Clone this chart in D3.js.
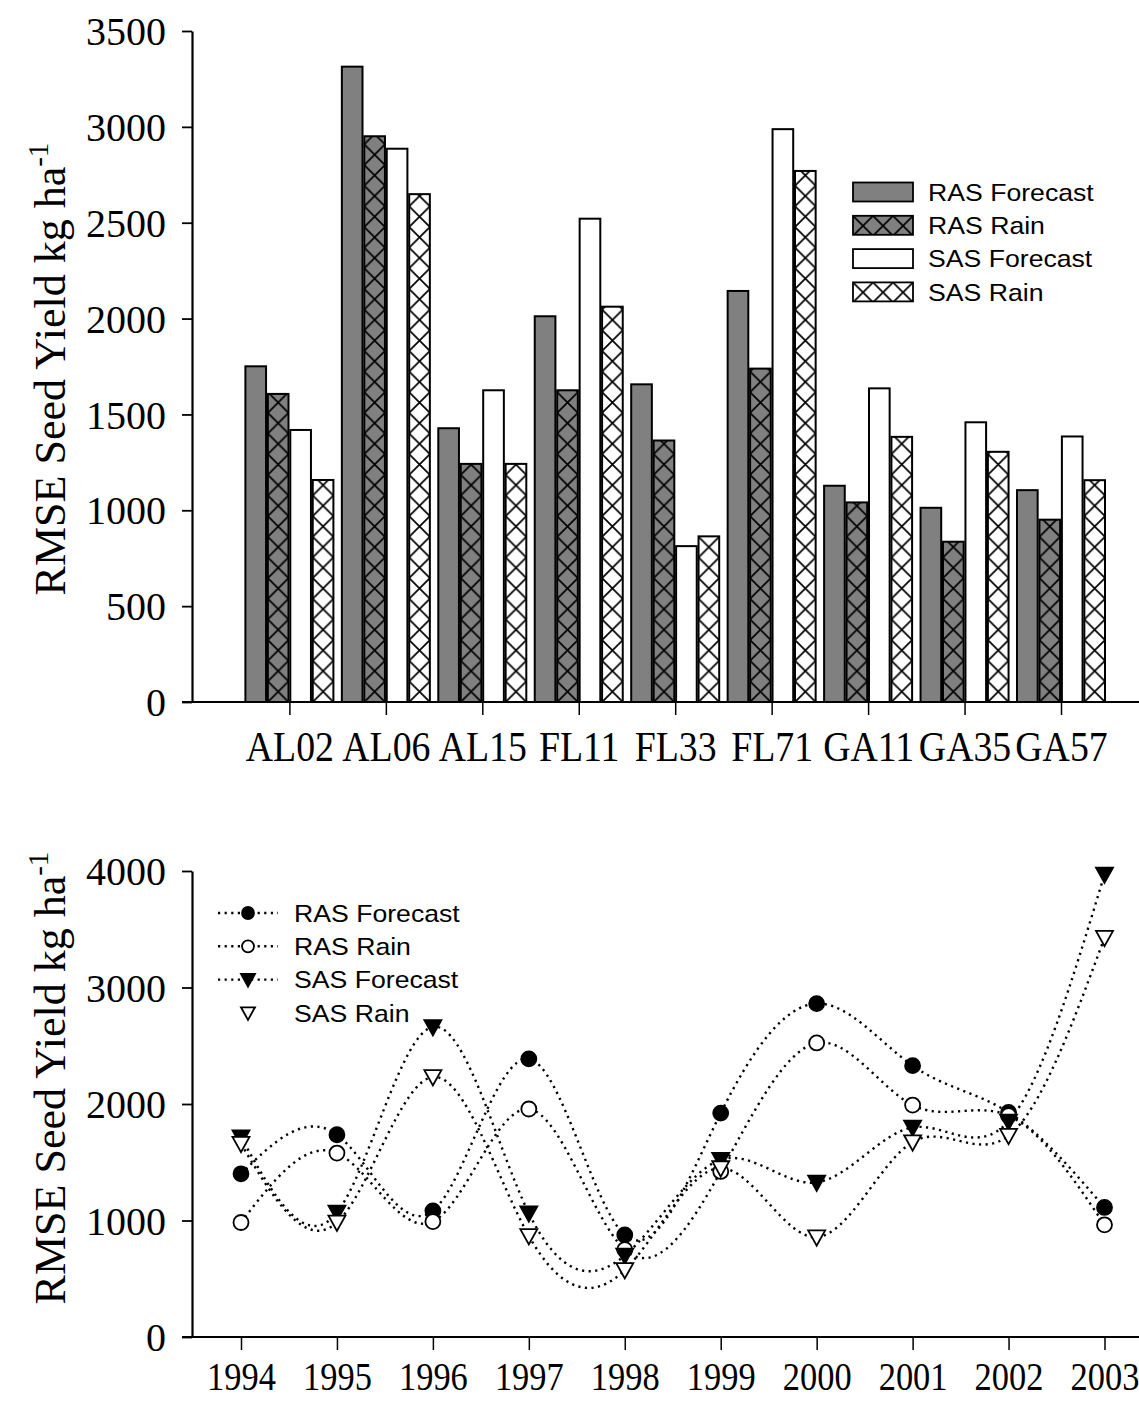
<!DOCTYPE html>
<html>
<head>
<meta charset="utf-8">
<script src="https://cdn.jsdelivr.net/npm/d3@7"></script>
<style>
  html, body { margin: 0; padding: 0; background: #fff; }
  svg { display: block; }
</style>
</head>
<body>
<script>
// ---------- DATA ----------
const categories = ["AL02","AL06","AL15","FL11","FL33","FL71","GA11","GA35","GA57"];
const seriesNames = ["RAS Forecast","RAS Rain","SAS Forecast","SAS Rain"];
const rasForecast = [1751, 3314, 1428, 2012, 1657, 2144, 1128, 1013, 1105];
const rasRain     = [1607, 2951, 1242, 1626, 1364, 1739, 1041,  836,  951];
const sasForecast = [1419, 2886, 1626, 2521,  813, 2988, 1636, 1459, 1385];
const sasRain     = [1158, 2649, 1242, 2062,  864, 2770, 1383, 1305, 1157];
const topTicks = [0,500,1000,1500,2000,2500,3000,3500];

const years = [1994,1995,1996,1997,1998,1999,2000,2001,2002,2003];
const rasForecastY = [1401, 1736, 1083, 2387, 876, 1922, 2862, 2329, 1928, 1112];
const rasRainY     = [ 983, 1579,  991, 1957, 750, 1421, 2524, 1991, 1900,  963];
const sasForecastY = [1716, 1069, 2662, 1063, 700, 1521, 1327, 1799, 1851, 3971];
const sasRainY     = [1659,  983, 2232,  868, 575, 1450,  857, 1673, 1728, 3427];
const bottomTicks = [0,1000,2000,3000,4000];

// ---------- SETUP ----------
const W = 1139, H = 1403;
const svg = d3.select("body").append("svg").attr("width", W).attr("height", H);
const defs = svg.append("defs");
const serif = "'Liberation Serif','Times New Roman',Times,serif";
const sans = "'Liberation Sans',Arial,Helvetica,sans-serif";
const fmt = d3.format("d");

// ===== TOP CHART =====
const axX = 192;
const yTop = d3.scaleLinear().domain([0,3500]).range([702,31]);
const xCat = d3.scalePoint().domain(categories).range([289.4, 1061]);
const xSub = d3.scaleBand().domain(seriesNames).range([-44,44]).paddingInner(0.08);
const barSeries = [rasForecast, rasRain, sasForecast, sasRain];
const styleOf = {
  "RAS Forecast": {fill:"#808080", hatch:false},
  "RAS Rain": {fill:"#808080", hatch:true},
  "SAS Forecast": {fill:"#ffffff", hatch:false},
  "SAS Rain": {fill:"#ffffff", hatch:true}
};
let patId = 0;
function hatchPattern(x, y, w, bg) {
  const id = "hp" + (patId++);
  const p = defs.append("pattern").attr("id", id).attr("patternUnits","userSpaceOnUse")
    .attr("x", x).attr("y", y).attr("width", w).attr("height", w);
  p.append("rect").attr("width", w).attr("height", w).attr("fill", bg);
  p.append("path").attr("d", `M0,0L${w},${w}M${w},0L0,${w}M-1,-1L1,1M${w-1},${w+1}L${w+1},${w-1}`)
    .attr("stroke","#000").attr("stroke-width",1.7).attr("fill","none");
  return "url(#" + id + ")";
}

const gTop = svg.append("g");
const bars = [];
categories.forEach((c,i) => {
  seriesNames.forEach((s,j) => bars.push({cat:c, s:s, v:barSeries[j][i]}));
});
gTop.selectAll("rect.bar").data(bars).join("rect").attr("class","bar")
  .attr("x", d => xCat(d.cat) + xSub(d.s))
  .attr("y", d => yTop(d.v))
  .attr("width", xSub.bandwidth())
  .attr("height", d => yTop(0) - yTop(d.v))
  .attr("fill", d => {
    const st = styleOf[d.s];
    if (!st.hatch) return st.fill;
    const bx = xCat(d.cat) + xSub(d.s);
    return hatchPattern(bx, yTop(0), xSub.bandwidth(), st.fill);
  })
  .attr("stroke","#000").attr("stroke-width",2);

// y axis
const yAxT = gTop.append("g").attr("transform", `translate(${axX},0)`)
  .call(d3.axisLeft(yTop).tickValues(topTicks).tickFormat(fmt).tickSize(10).tickSizeOuter(0).tickPadding(16));
yAxT.select(".domain").attr("stroke-width",2.2);
yAxT.selectAll(".tick line").attr("stroke-width",1.8);
yAxT.selectAll(".tick text").attr("font-family",serif).attr("font-size",40).attr("fill","#000").attr("dy","0.34em");

// x axis
gTop.append("line").attr("x1", axX-10).attr("x2", W).attr("y1", yTop(0)).attr("y2", yTop(0))
  .attr("stroke","#000").attr("stroke-width",2.2);
const xAxT = gTop.append("g").attr("transform", `translate(0,${yTop(0)})`)
  .call(d3.axisBottom(xCat).tickSize(13).tickSizeOuter(0).tickPadding(12));
xAxT.select(".domain").remove();
xAxT.selectAll(".tick line").attr("stroke-width",1.5);
xAxT.selectAll(".tick text").attr("font-family",serif).attr("font-size",42).attr("fill","#000")
  .attr("dy","0.8em").attr("transform","scale(0.9,1)");

// y title
function yTitle(g, cx, cy) {
  const t = g.append("text").attr("transform", `translate(${cx},${cy}) rotate(-90)`)
    .attr("text-anchor","middle").attr("font-family",serif).attr("font-size",44).attr("fill","#000");
  t.append("tspan").text("RMSE Seed Yield kg ha");
  t.append("tspan").attr("font-size",29).attr("dy",-17).text("-1");
}
yTitle(gTop, 65, 369);

// legend top
const legT = gTop.append("g");
seriesNames.forEach((s,i) => {
  const cy = 192 + i*33.3;
  const st = styleOf[s];
  legT.append("rect").attr("x",853).attr("y",cy-9.5).attr("width",60).attr("height",19)
    .attr("fill", st.hatch ? hatchPattern(853, cy-9.5, 20, st.fill) : st.fill)
    .attr("stroke","#000").attr("stroke-width",1.8);
  legT.append("text").attr("transform",`translate(928,${cy}) scale(1.11,1)`).attr("dy","0.36em")
    .attr("font-family",sans).attr("font-size",24).attr("fill","#000").text(s);
});

// ===== BOTTOM CHART =====
const yBot = d3.scaleLinear().domain([0,4000]).range([1337,871]);
const xYear = d3.scalePoint().domain(years).range([241, 1104.5]);
const gBot = svg.append("g");

const yAxB = gBot.append("g").attr("transform", `translate(${axX},0)`)
  .call(d3.axisLeft(yBot).tickValues(bottomTicks).tickFormat(fmt).tickSize(10).tickSizeOuter(0).tickPadding(16));
yAxB.select(".domain").attr("stroke-width",2.2);
yAxB.selectAll(".tick line").attr("stroke-width",1.8);
yAxB.selectAll(".tick text").attr("font-family",serif).attr("font-size",40).attr("fill","#000").attr("dy","0.34em");

gBot.append("line").attr("x1", axX-10).attr("x2", W).attr("y1", yBot(0)).attr("y2", yBot(0))
  .attr("stroke","#000").attr("stroke-width",2.2);
const xAxB = gBot.append("g").attr("transform", `translate(0,${yBot(0)})`)
  .call(d3.axisBottom(xYear).tickSize(13).tickSizeOuter(0).tickPadding(10));
xAxB.select(".domain").remove();
xAxB.selectAll(".tick line").attr("stroke-width",1.5);
xAxB.selectAll(".tick text").attr("font-family",serif).attr("font-size",41).attr("fill","#000")
  .attr("dy","0.72em").attr("transform","scale(0.84,1)");

yTitle(gBot, 65, 1078);

const lineSeries = [
  {name:"RAS Forecast", vals:rasForecastY, marker:"circle", fill:"#000"},
  {name:"RAS Rain", vals:rasRainY, marker:"circle", fill:"#fff"},
  {name:"SAS Forecast", vals:sasForecastY, marker:"tri", fill:"#000"},
  {name:"SAS Rain", vals:sasRainY, marker:"tri", fill:"#fff"}
];
const line = d3.line().x(d => xYear(d.year)).y(d => yBot(d.v)).curve(d3.curveNatural);
lineSeries.forEach(ser => {
  const pts = years.map((y,i) => ({year:y, v:ser.vals[i]}));
  gBot.append("path").attr("d", line(pts)).attr("fill","none").attr("stroke","#000")
    .attr("stroke-width",2.4).attr("stroke-dasharray","2.2,4.4");
});
const triPath = (s) => `M${-s},${-s*0.8}L${s},${-s*0.8}L0,${s}Z`;
function drawMarker(g, ser, x, y, small) {
  if (ser.marker === "circle") {
    g.append("circle").attr("cx",x).attr("cy",y).attr("r", small ? 6 : 7.5)
      .attr("fill",ser.fill).attr("stroke","#000").attr("stroke-width",1.8);
  } else {
    g.append("path").attr("d", triPath(small ? 7 : 8.5)).attr("transform",`translate(${x},${y})`)
      .attr("fill",ser.fill).attr("stroke","#000").attr("stroke-width",1.8).attr("stroke-linejoin","miter");
  }
}
lineSeries.forEach(ser => {
  years.forEach((y,i) => drawMarker(gBot, ser, xYear(y), yBot(ser.vals[i]), false));
});

// legend bottom
lineSeries.forEach((ser,i) => {
  const cy = 913 + i*33.3;
  if (ser.name !== "SAS Rain") {
    gBot.append("line").attr("x1",218).attr("x2",278).attr("y1",cy).attr("y2",cy)
      .attr("stroke","#000").attr("stroke-width",2.4).attr("stroke-dasharray","2.2,4.4");
  }
  drawMarker(gBot, ser, 248, cy, true);
  gBot.append("text").attr("transform",`translate(294,${cy}) scale(1.11,1)`).attr("dy","0.36em")
    .attr("font-family",sans).attr("font-size",24).attr("fill","#000").text(ser.name);
});
</script>
</body>
</html>
